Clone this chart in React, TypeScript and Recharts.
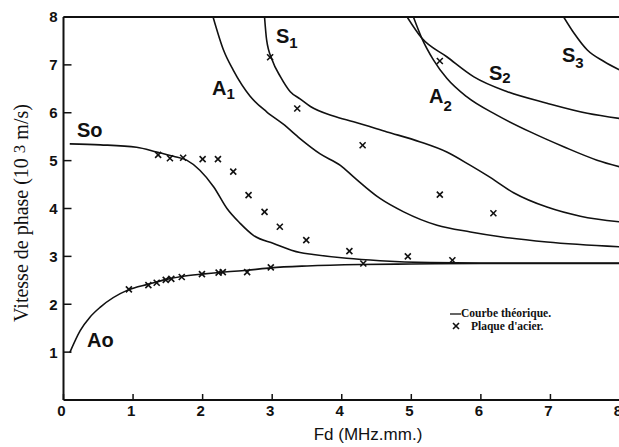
import React from "react";
import {
  ComposedChart,
  Line,
  Scatter,
  XAxis,
  YAxis,
  ReferenceLine,
} from "recharts";

// theoretical dispersion curves, Fd (MHz.mm) vs phase velocity (10^3 m/s)
const curveA0 = [
  { fd: 0.09, v: 0.99 }, { fd: 0.24, v: 1.45 }, { fd: 0.38, v: 1.73 },
  { fd: 0.53, v: 1.94 }, { fd: 0.93, v: 2.3 }, { fd: 1.22, v: 2.42 },
  { fd: 1.48, v: 2.52 }, { fd: 1.7, v: 2.58 }, { fd: 1.99, v: 2.63 },
  { fd: 2.28, v: 2.67 }, { fd: 2.64, v: 2.71 }, { fd: 2.98, v: 2.76 },
  { fd: 3.5, v: 2.8 }, { fd: 4.27, v: 2.83 }, { fd: 5, v: 2.84 },
  { fd: 6, v: 2.85 }, { fd: 8, v: 2.85 },
];

const curveS0 = [
  { fd: 0.09, v: 5.35 }, { fd: 0.53, v: 5.33 }, { fd: 1.05, v: 5.28 },
  { fd: 1.34, v: 5.18 }, { fd: 1.58, v: 5.09 }, { fd: 1.77, v: 5.01 },
  { fd: 1.96, v: 4.8 }, { fd: 2.16, v: 4.45 }, { fd: 2.35, v: 4.0 },
  { fd: 2.54, v: 3.69 }, { fd: 2.73, v: 3.44 }, { fd: 3.02, v: 3.27 },
  { fd: 3.4, v: 3.08 }, { fd: 3.59, v: 3.04 }, { fd: 4.07, v: 2.96 },
  { fd: 4.55, v: 2.91 }, { fd: 5.27, v: 2.87 }, { fd: 6, v: 2.86 },
  { fd: 8, v: 2.86 },
];

const curveA1 = [
  { fd: 2.15, v: 8.0 }, { fd: 2.3, v: 7.31 }, { fd: 2.44, v: 6.89 },
  { fd: 2.68, v: 6.35 }, { fd: 2.92, v: 6.02 }, { fd: 3.16, v: 5.76 },
  { fd: 3.4, v: 5.46 }, { fd: 3.69, v: 5.14 }, { fd: 3.98, v: 4.9 },
  { fd: 4.17, v: 4.66 }, { fd: 4.55, v: 4.21 }, { fd: 4.89, v: 3.93 },
  { fd: 5.37, v: 3.65 }, { fd: 5.85, v: 3.51 }, { fd: 6.28, v: 3.41 },
  { fd: 6.95, v: 3.3 }, { fd: 8, v: 3.2 },
];

const curveS1 = [
  { fd: 2.89, v: 8.0 }, { fd: 2.92, v: 7.52 }, { fd: 3.0, v: 7.1 },
  { fd: 3.12, v: 6.75 }, { fd: 3.26, v: 6.44 }, { fd: 3.4, v: 6.29 },
  { fd: 3.55, v: 6.13 }, { fd: 3.88, v: 5.93 }, { fd: 4.17, v: 5.81 },
  { fd: 4.65, v: 5.6 }, { fd: 5.13, v: 5.39 }, { fd: 5.51, v: 5.18 },
  { fd: 5.85, v: 4.9 }, { fd: 6.1, v: 4.68 }, { fd: 6.47, v: 4.33 },
  { fd: 6.95, v: 4.03 }, { fd: 7.43, v: 3.84 }, { fd: 8, v: 3.72 },
];

const curveA2 = [
  { fd: 5.03, v: 8.0 }, { fd: 5.15, v: 7.56 }, { fd: 5.32, v: 7.1 },
  { fd: 5.51, v: 6.72 }, { fd: 5.8, v: 6.33 }, { fd: 6.23, v: 5.95 },
  { fd: 6.71, v: 5.6 }, { fd: 7.19, v: 5.29 }, { fd: 7.67, v: 5.01 },
  { fd: 8, v: 4.87 },
];

const curveS2 = [
  { fd: 4.94, v: 8.0 }, { fd: 5.15, v: 7.56 }, { fd: 5.51, v: 7.17 },
  { fd: 5.9, v: 6.75 }, { fd: 6.38, v: 6.44 }, { fd: 6.95, v: 6.2 },
  { fd: 7.53, v: 5.99 }, { fd: 8, v: 5.88 },
];

const curveS3 = [
  { fd: 7.19, v: 8.0 }, { fd: 7.34, v: 7.66 }, { fd: 7.53, v: 7.31 },
  { fd: 7.77, v: 7.07 }, { fd: 8, v: 6.89 },
];

// measured points (steel plate)
const steelPoints = [
  { fd: 0.94, v: 2.31 }, { fd: 1.22, v: 2.4 }, { fd: 1.34, v: 2.45 },
  { fd: 1.47, v: 2.51 }, { fd: 1.55, v: 2.53 }, { fd: 1.7, v: 2.57 },
  { fd: 1.99, v: 2.63 }, { fd: 2.23, v: 2.66 }, { fd: 2.29, v: 2.67 },
  { fd: 2.64, v: 2.67 }, { fd: 2.98, v: 2.77 }, { fd: 4.31, v: 2.85 },
  { fd: 1.36, v: 5.12 }, { fd: 1.53, v: 5.05 }, { fd: 1.72, v: 5.06 },
  { fd: 2.0, v: 5.03 }, { fd: 2.22, v: 5.03 }, { fd: 2.44, v: 4.77 },
  { fd: 2.66, v: 4.28 }, { fd: 2.89, v: 3.93 }, { fd: 3.11, v: 3.62 },
  { fd: 3.49, v: 3.34 }, { fd: 4.11, v: 3.11 }, { fd: 4.95, v: 3.0 },
  { fd: 5.59, v: 2.92 }, { fd: 6.18, v: 3.9 }, { fd: 5.41, v: 4.29 },
  { fd: 4.3, v: 5.32 }, { fd: 3.36, v: 6.09 }, { fd: 2.97, v: 7.16 },
  { fd: 5.41, v: 7.08 },
];

const xTicks = [0, 1, 2, 3, 4, 5, 6, 7, 8];
const yTicks = [1, 2, 3, 4, 5, 6, 7, 8];

const curves = [curveA0, curveS0, curveA1, curveS1, curveA2, curveS2, curveS3];

const INK = "#111";
const tickFont = "'Liberation Sans', Arial, sans-serif";
const serif = "'Liberation Serif', 'Times New Roman', serif";

function Cross(props: any) {
  const { cx, cy } = props;
  if (cx == null || cy == null) return null;
  const s = 3;
  return (
    <g stroke={INK} strokeWidth={1.6}>
      <line x1={cx - s} y1={cy - s} x2={cx + s} y2={cy + s} />
      <line x1={cx - s} y1={cy + s} x2={cx + s} y2={cy - s} />
    </g>
  );
}

function XTick({ x, y, payload }: any) {
  return (
    <g>
      <line x1={x} x2={x} y1={y - 5} y2={y - 11} stroke={INK} strokeWidth={1.5} />
      <text
        x={x - 2}
        y={y}
        dy="0.72em"
        textAnchor="middle"
        fontFamily={tickFont}
        fontWeight="bold"
        fontSize={15}
        fill={INK}
      >
        {payload.value}
      </text>
    </g>
  );
}

function YTick({ x, y, payload }: any) {
  return (
    <g>
      <line x1={x + 6} x2={x + 14} y1={y} y2={y} stroke={INK} strokeWidth={1.5} />
      <text
        x={x}
        y={y}
        dy="0.36em"
        textAnchor="end"
        fontFamily={tickFont}
        fontWeight="bold"
        fontSize={15}
        fill={INK}
      >
        {payload.value}
      </text>
    </g>
  );
}

function ModeLabel({ x, y, main, sub, subDy }: any) {
  return (
    <text
      x={x}
      y={y}
      fontFamily={tickFont}
      fontWeight="bold"
      fontSize={20}
      fill={INK}
    >
      {main}
      {sub ? (
        <tspan fontSize={15} dy={subDy}>
          {sub}
        </tspan>
      ) : null}
    </text>
  );
}

export default function App() {
  return (
    <div
      style={{
        position: "absolute",
        left: 0,
        top: 0,
        width: 619,
        height: 447,
        overflow: "hidden",
        background: "#fff",
      }}
    >
      <ComposedChart
        width={640}
        height={447}
        margin={{ top: 17, right: 20, bottom: 0, left: 0 }}
      >
        <XAxis
          type="number"
          dataKey="fd"
          domain={[0, 8]}
          ticks={xTicks}
          allowDataOverflow
          height={47}
          tickSize={0}
          tickMargin={5}
          tick={<XTick />}
          axisLine={{ stroke: INK, strokeWidth: 2 }}
        />
        <YAxis
          type="number"
          dataKey="v"
          domain={[0, 8]}
          ticks={yTicks}
          allowDataOverflow
          width={63.5}
          tickSize={0}
          tickMargin={6}
          tick={<YTick />}
          axisLine={{ stroke: INK, strokeWidth: 2 }}
        />
        <ReferenceLine y={8} stroke={INK} strokeWidth={2} />
        {curves.map((c, i) => (
          <Line
            key={i}
            data={c}
            dataKey="v"
            type="monotone"
            dot={false}
            activeDot={false}
            stroke={INK}
            strokeWidth={1.6}
            isAnimationActive={false}
          />
        ))}
        <Scatter
          data={steelPoints}
          dataKey="v"
          shape={<Cross />}
          isAnimationActive={false}
        />
      </ComposedChart>

      <svg
        width={619}
        height={447}
        style={{ position: "absolute", left: 0, top: 0, pointerEvents: "none" }}
      >
        <ModeLabel x={77} y={137} main="So" />
        <ModeLabel x={87} y={347} main="Ao" />
        <ModeLabel x={212} y={95} main="A" sub="1" subDy={4} />
        <ModeLabel x={276} y={43} main="S" sub="1" subDy={5} />
        <ModeLabel x={429} y={103} main="A" sub="2" subDy={8} />
        <ModeLabel x={489} y={80} main="S" sub="2" subDy={3} />
        <ModeLabel x={562} y={62} main="S" sub="3" subDy={6} />

        <text
          transform="translate(28,213) rotate(-90)"
          textAnchor="middle"
          fontFamily={serif}
          fontSize={20}
          fill={INK}
        >
          Vitesse de phase (10{" "}
          <tspan fontSize={17} dy={-3}>
            3
          </tspan>
          <tspan dy={3}> m/s)</tspan>
        </text>

        <text
          x={368}
          y={440}
          textAnchor="middle"
          fontFamily={tickFont}
          fontSize={17}
          fill={INK}
        >
          Fd (MHz.mm.)
        </text>

        <line x1={450} x2={461} y1={314} y2={314} stroke={INK} strokeWidth={1.3} />
        <text x={461} y={317} fontFamily={serif} fontWeight="bold" fontSize={11.5} fill={INK}>
          Courbe théorique.
        </text>
        <Cross cx={456} cy={326} />
        <text x={471} y={330} fontFamily={serif} fontWeight="bold" fontSize={11.5} fill={INK}>
          Plaque d'acier.
        </text>
      </svg>
    </div>
  );
}
